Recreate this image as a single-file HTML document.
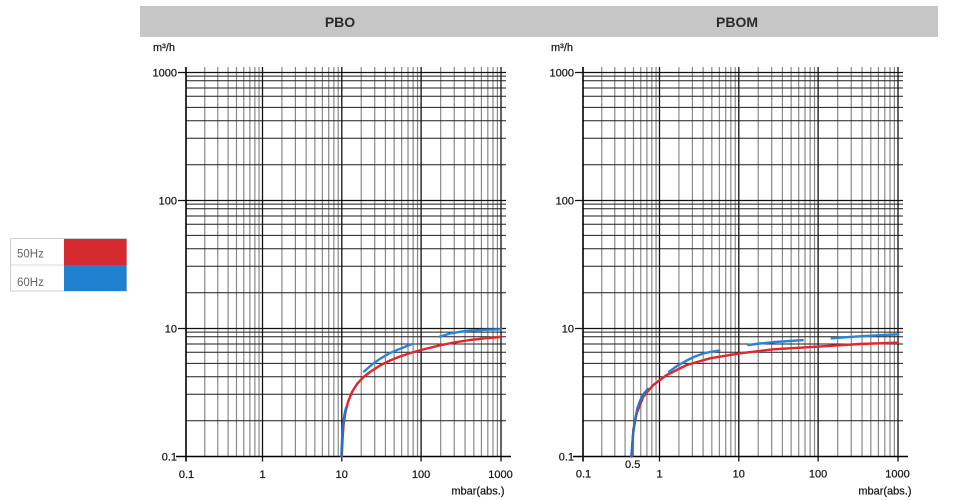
<!DOCTYPE html>
<html>
<head>
<meta charset="utf-8">
<style>
html,body{margin:0;padding:0;background:#fff;}
svg{display:block;}
text{font-family:"Liberation Sans",sans-serif;}
</style>
</head>
<body>
<svg width="977" height="500" viewBox="0 0 977 500" xmlns="http://www.w3.org/2000/svg">
<defs>
  <g id="vd" stroke="#8a8a8a" stroke-width="1.2">
    <line x1="24.5" y1="-5.5" x2="24.5" y2="384" vector-effect="non-scaling-stroke"/>
    <line x1="41.5" y1="-5.5" x2="41.5" y2="384" vector-effect="non-scaling-stroke"/>
    <line x1="55" y1="-5.5" x2="55" y2="384" vector-effect="non-scaling-stroke"/>
    <line x1="66" y1="-5.5" x2="66" y2="384" vector-effect="non-scaling-stroke"/>
    <line x1="75.5" y1="-5.5" x2="75.5" y2="384" vector-effect="non-scaling-stroke"/>
    <line x1="83.5" y1="-5.5" x2="83.5" y2="384" vector-effect="non-scaling-stroke"/>
    <line x1="90" y1="-5.5" x2="90" y2="384" vector-effect="non-scaling-stroke"/>
    <line x1="95.5" y1="-5.5" x2="95.5" y2="384" vector-effect="non-scaling-stroke"/>
  </g>
  <g id="hd" stroke="#1e1e1e" stroke-width="1">
    <line x1="0" y1="3.6" x2="320" y2="3.6"/>
    <line x1="0" y1="8.3" x2="320" y2="8.3"/>
    <line x1="0" y1="15.5" x2="320" y2="15.5"/>
    <line x1="0" y1="23.8" x2="320" y2="23.8"/>
    <line x1="0" y1="34.9" x2="320" y2="34.9"/>
    <line x1="0" y1="48.3" x2="320" y2="48.3"/>
    <line x1="0" y1="65.7" x2="320" y2="65.7"/>
    <line x1="0" y1="92.2" x2="320" y2="92.2"/>
  </g>
  <g id="chart">
    <use href="#vd" transform="translate(0,0) scale(0.765,1)"/>
    <use href="#vd" transform="translate(76.5,0) scale(0.793,1)"/>
    <use href="#vd" transform="translate(155.8,0) scale(0.793,1)"/>
    <use href="#vd" transform="translate(235.1,0) scale(0.799,1)"/>
    <use href="#hd" transform="translate(0,0)"/>
    <use href="#hd" transform="translate(0,128)"/>
    <use href="#hd" transform="translate(0,256)"/>
    <g stroke="#111" stroke-width="1.3">
      <line x1="-8" y1="0" x2="320" y2="0"/>
      <line x1="-8" y1="128" x2="320" y2="128"/>
      <line x1="-8" y1="256" x2="320" y2="256"/>
      <line x1="76.5" y1="-5.5" x2="76.5" y2="389"/>
      <line x1="155.8" y1="-5.5" x2="155.8" y2="389"/>
      <line x1="235.1" y1="-5.5" x2="235.1" y2="389"/>
      <line x1="315" y1="-5.5" x2="315" y2="389"/>
    </g>
    <line x1="0" y1="-5.5" x2="0" y2="389" stroke="#000" stroke-width="1.6"/>
    <line x1="-10" y1="384" x2="325" y2="384" stroke="#000" stroke-width="1.6"/>
  </g>
</defs>

<!-- header band -->
<rect x="140" y="6" width="798" height="31" fill="#c6c6c6"/>
<text x="340" y="27" font-size="14" font-weight="bold" fill="#2a2a2a" text-anchor="middle">PBO</text>
<text x="737" y="27" font-size="14" font-weight="bold" fill="#2a2a2a" text-anchor="middle">PBOM</text>

<!-- legend -->
<rect x="10.5" y="238.5" width="116" height="52.5" fill="#fff" stroke="#cfcfcf" stroke-width="1"/>
<line x1="10.5" y1="265" x2="64" y2="265" stroke="#d8d8d8" stroke-width="1"/>
<rect x="64" y="239" width="62.5" height="26" fill="#d52a2f"/>
<rect x="64" y="265" width="62.5" height="26" fill="#1f80cf"/>
<text x="17" y="257.5" font-size="11.5" fill="#666">50Hz</text>
<text x="17" y="286" font-size="11.5" fill="#666">60Hz</text>

<!-- charts -->
<use href="#chart" transform="translate(186,72.5)"/>
<use href="#chart" transform="translate(583,72.5)"/>

<!-- left labels -->
<g font-size="11" fill="#1a1a1a" stroke="#1a1a1a" stroke-width="0.25">
  <text x="153" y="51">m³/h</text>
  <text x="177" y="76.5" text-anchor="end">1000</text>
  <text x="177" y="204.5" text-anchor="end">100</text>
  <text x="177" y="332.5" text-anchor="end">10</text>
  <text x="177" y="460.5" text-anchor="end">0.1</text>
  <text x="186.5" y="478" text-anchor="middle">0.1</text>
  <text x="262.5" y="478" text-anchor="middle">1</text>
  <text x="341.8" y="478" text-anchor="middle">10</text>
  <text x="421.1" y="478" text-anchor="middle">100</text>
  <text x="500.5" y="478" text-anchor="middle">1000</text>
  <text x="504.5" y="494.5" text-anchor="end">mbar(abs.)</text>
</g>
<!-- right labels -->
<g font-size="11" fill="#1a1a1a" stroke="#1a1a1a" stroke-width="0.25">
  <text x="551" y="51">m³/h</text>
  <text x="574" y="76.5" text-anchor="end">1000</text>
  <text x="574" y="204.5" text-anchor="end">100</text>
  <text x="574" y="332.5" text-anchor="end">10</text>
  <text x="574" y="460.5" text-anchor="end">0.1</text>
  <text x="632.7" y="468" text-anchor="middle">0.5</text>
  <text x="583.5" y="477.5" text-anchor="middle">0.1</text>
  <text x="659.5" y="477.5" text-anchor="middle">1</text>
  <text x="738.8" y="477.5" text-anchor="middle">10</text>
  <text x="818.1" y="477.5" text-anchor="middle">100</text>
  <text x="897.5" y="477.5" text-anchor="middle">1000</text>
  <text x="911.5" y="494.5" text-anchor="end">mbar(abs.)</text>
</g>

<!-- left curves -->
<g fill="none" stroke-width="2.4" stroke-linecap="round" stroke-linejoin="round">
  <polyline stroke="#e2262b" points="341.8,456.5 342.5,440 343.5,425 345.5,412 348,402 352,392 357,384 363,377.5 370,372 380,365.5 390,360.5 400,356.5 412,352.5 425,349 440,345.3 455,342.3 470,340 485,338.3 500,337"/>
  <polyline stroke="#2b6fc4" points="341.4,456.5 342,440 343,425 344.6,414 346,408"/>
  <polyline stroke="#2a84d3" points="364,371.5 372,364.5 380,358.8 390,353 400,348.8 412,344"/>
  <polyline stroke="#2a84d3" points="440,336.7 450,333.5 460,331.8 470,330.6 485,329.8 501,329.3"/>
</g>

<!-- right curves -->
<g fill="none" stroke-width="2.4" stroke-linecap="round" stroke-linejoin="round">
  <polyline stroke="#e2262b" points="631.7,456.5 633.3,430 636.7,413.3 643.3,396.7 653.3,385 666.7,375 686.7,365 710,358.3 740,353.3 773.3,349.3 816.7,346.7 860,344 898,342.7"/>
  <polyline stroke="#2b6fc4" points="631.3,456.5 633,435 635,420 637.5,408 640,401 644,393.5 648,389"/>
  <polyline stroke="#2a84d3" points="669,371.7 677,366 686.7,360.5 695,356.5 703.3,353.5 711,351.8 719.3,350.5"/>
  <polyline stroke="#2a84d3" points="748.3,345 760,343.5 775,342 790,341 802.7,340.2"/>
  <polyline stroke="#2a84d3" points="831.7,338.3 845,337.3 860,336.3 880,335.2 898.3,334.3"/>
</g>
</svg>
</body>
</html>
